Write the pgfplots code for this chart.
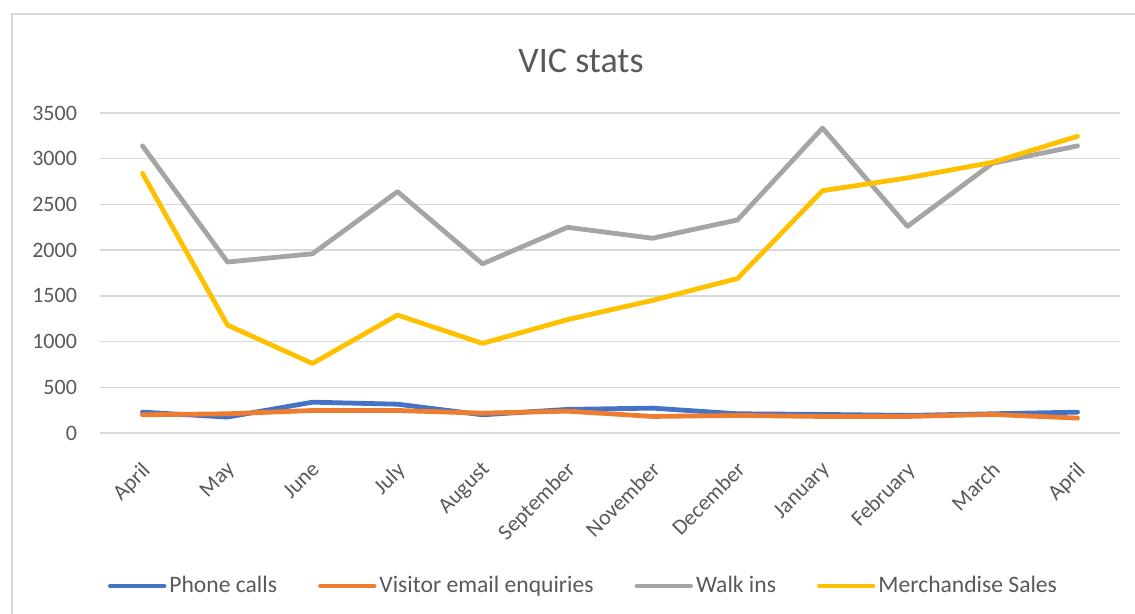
\documentclass[border=0pt]{standalone}
\usepackage{fontspec}
\setmainfont{Carlito}
\usepackage{pgfplots}
\usepackage{pgfplotstable}
\pgfplotsset{compat=1.18}
\definecolor{txt}{HTML}{595959}
\definecolor{gridc}{HTML}{D9D9D9}
\definecolor{sblue}{HTML}{4472C4}
\definecolor{sorange}{HTML}{ED7D31}
\definecolor{sgray}{HTML}{A5A5A5}
\definecolor{syellow}{HTML}{FFC000}

% idx: April ... April (no October in the source)
\pgfplotstableread{
idx phone email walkins merch
0   228   199   3140    2840
1   174   210   1870    1180
2   337   246   1960    760
3   315   246   2640    1290
4   199   217   1850    980
5   258   239   2250    1240
6   272   181   2130    1450
7   210   192   2330    1690
8   203   181   3335    2650
9   192   181   2260    2790
10  210   203   2950    2960
11  228   163   3140    3245
}\vicdata

\begin{document}
\begin{tikzpicture}
\useasboundingbox (0,0) rectangle (567.5pt,307pt);
\draw[gridc, line width=0.75pt] (6pt,0pt) -- (6pt,300pt) -- (567.5pt,300pt);
\begin{axis}[
  at={(50pt,90.5pt)}, anchor=south west,
  scale only axis,
  width=510pt, height=160pt,
  xmin=-0.5, xmax=11.5,
  ymin=0, ymax=3500,
  ytick={0,500,...,3500},
  xtick={0,...,11},
  xticklabels={April,May,June,July,August,September,November,December,January,February,March,April},
  axis line style={draw=none},
  major tick length=0pt,
  ymajorgrids,
  grid style={gridc, line width=0.75pt},
  tick label style={font=\fontsize{11}{13}\selectfont, text=txt},
  /pgf/number format/assume math mode=true,
  /pgf/number format/set thousands separator={},
  xticklabel style={rotate=45, anchor=north east, xshift=-7pt, yshift=-5.5pt},
  yticklabel style={xshift=-8pt},
  title={VIC stats},
  title style={at={(0.4716,1.125)}, anchor=center, font=\fontsize{18}{21}\selectfont, text=txt},
  legend columns=4,
  legend style={at={(0.4745,-0.478)}, anchor=center, draw=none, fill=none,
    font=\fontsize{11.8}{14}\selectfont, text=txt,
    /tikz/every even column/.append style={column sep=19pt},
    nodes={inner sep=1.5pt}},
  legend image code/.code={\draw[#1, line width=2.2pt, line cap=round] (0pt,0pt) -- (27pt,0pt);},
  every axis plot/.append style={line width=2.4pt, line join=round, line cap=round, mark=none},
]
  \addplot[sblue] table[x=idx, y=phone] {\vicdata};
  \addlegendentry{Phone calls}
  \addplot[sorange] table[x=idx, y=email] {\vicdata};
  \addlegendentry{Visitor email enquiries}
  \addplot[sgray] table[x=idx, y=walkins] {\vicdata};
  \addlegendentry{Walk ins}
  \addplot[syellow] table[x=idx, y=merch] {\vicdata};
  \addlegendentry{Merchandise Sales}
\end{axis}
\end{tikzpicture}
\end{document}
